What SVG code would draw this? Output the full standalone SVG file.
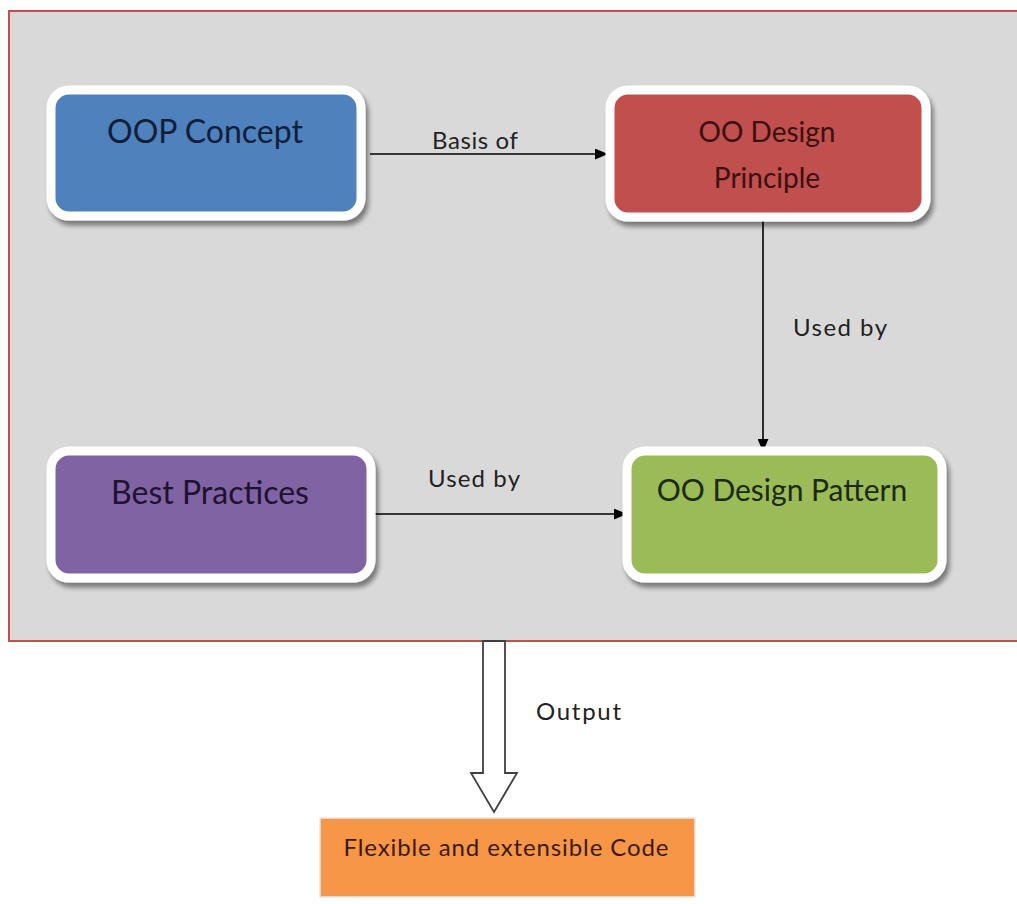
<svg xmlns="http://www.w3.org/2000/svg" width="1017" height="904" viewBox="0 0 1017 904">
<defs>
<style>
.t{font-family:Lato,"Open Sans","Liberation Sans",sans-serif;text-anchor:middle}
.lbl{font-family:Lato,"Open Sans","Liberation Sans",sans-serif;font-size:24px;fill:#222}
.rim{stroke:#ffffff;stroke-width:9}
.edge{stroke:#000;stroke-width:1.6;fill:none}
</style>
<filter id="sh" x="-10%" y="-10%" width="125%" height="130%">
<feGaussianBlur in="SourceAlpha" stdDeviation="2.5"/>
<feOffset dx="3" dy="5" result="b"/>
<feComponentTransfer><feFuncA type="linear" slope="0.45"/></feComponentTransfer>
<feMerge><feMergeNode/><feMergeNode in="SourceGraphic"/></feMerge>
</filter>
<marker id="ah" viewBox="0 0 12 10" refX="12" refY="5" markerWidth="13" markerHeight="11" markerUnits="userSpaceOnUse" orient="auto">
<path d="M0,0 L12,5 L0,10 z" fill="#000"/>
</marker>
</defs>
<rect width="1017" height="904" fill="#ffffff"/>
<rect id="frame" x="9" y="11" width="1020" height="630" fill="#d9d9d9" stroke="#c0504d" stroke-width="2"/>

<g id="connectors">
<line class="edge" x1="370" y1="154" x2="608" y2="154" marker-end="url(#ah)"/>
<line class="edge" x1="763" y1="216" x2="763" y2="452" marker-end="url(#ah)"/>
<line class="edge" x1="371" y1="514" x2="627" y2="514" marker-end="url(#ah)"/>
<text class="lbl" x="432" y="149" textLength="86" lengthAdjust="spacing">Basis of</text>
<text class="lbl" x="793" y="336" textLength="94" lengthAdjust="spacing">Used by</text>
<text class="lbl" x="428" y="487" textLength="92" lengthAdjust="spacing">Used by</text>
<path id="output-arrow" d="M483,641 L505,641 L505,773 L517,773 L494,812 L471,773 L483,773 Z" fill="#ffffff" stroke="#404040" stroke-width="1.8"/>
<text class="lbl" x="536" y="720" textLength="85" lengthAdjust="spacing">Output</text>
</g>

<g id="oop">
<rect x="51" y="90" width="310" height="126" rx="18" fill="#4f81bd" class="rim" filter="url(#sh)"/>
<text class="t" x="205" y="143" font-size="32" fill="#0f1f3a">OOP Concept</text>
</g>

<g id="principle">
<rect x="610" y="90" width="316" height="127" rx="18" fill="#c0504d" class="rim" filter="url(#sh)"/>
<text class="t" x="767" y="142" font-size="28" fill="#3a1010">OO Design</text>
<text class="t" x="767" y="188" font-size="28" fill="#3a1010">Principle</text>
</g>

<g id="best">
<rect x="51" y="451" width="320" height="127" rx="18" fill="#8064a2" class="rim" filter="url(#sh)"/>
<text class="t" x="210" y="504" font-size="32" fill="#1e1230">Best Practices</text>
</g>

<g id="pattern">
<rect x="627" y="451" width="315" height="127" rx="18" fill="#9bbb59" class="rim" filter="url(#sh)"/>
<text class="t" x="782" y="501" font-size="30" fill="#1a2a0a">OO Design Pattern</text>
</g>

<g id="code">
<rect x="320" y="818" width="375" height="79" fill="#f79646" stroke="#e8e8e8" stroke-width="1.5"/>
<text class="t" x="506" y="856" font-size="24" fill="#3a1a05" textLength="325" lengthAdjust="spacing">Flexible and extensible Code</text>
</g>
</svg>
